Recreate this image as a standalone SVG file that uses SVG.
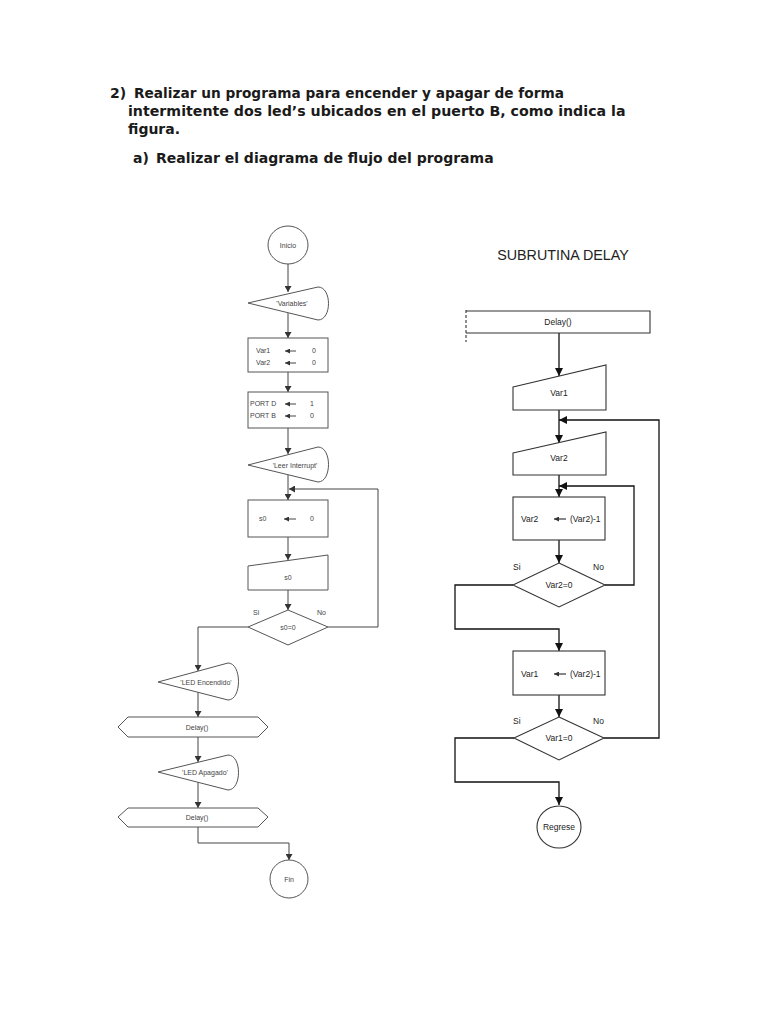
<svg xmlns="http://www.w3.org/2000/svg" width="768" height="1024" viewBox="0 0 768 1024">
<style>
.hd{font-family:"DejaVu Sans",sans-serif;font-size:14px;fill:#1a1a1a;font-weight:bold}
.st{font-family:"Liberation Sans",Arial,sans-serif;font-size:14.3px;fill:#222}
.lt{font-family:"Liberation Sans",Arial,sans-serif;font-size:7px;fill:#444}
.rt{font-family:"Liberation Sans",Arial,sans-serif;font-size:8.5px;fill:#222}
.ls{fill:#fff;stroke:#555;stroke-width:1}
.rs{fill:#fff;stroke:#333;stroke-width:1.1}
.lc{fill:none;stroke:#444;stroke-width:1}
.rc{fill:none;stroke:#111;stroke-width:1.3}
</style>
<defs>
<marker id="al" markerUnits="userSpaceOnUse" markerWidth="7" markerHeight="7" refX="6" refY="3.5" orient="auto"><path d="M0,0 L6,3.5 L0,7 z" fill="#333"/></marker>
<marker id="ar" markerUnits="userSpaceOnUse" markerWidth="9" markerHeight="9" refX="8" refY="4" orient="auto"><path d="M0,0 L8,4 L0,8 z" fill="#111"/></marker>
<marker id="sa" markerUnits="userSpaceOnUse" markerWidth="6" markerHeight="6" refX="0" refY="2.5" orient="auto"><path d="M5,0 L0,2.5 L5,5 z" fill="#333"/></marker>
</defs>
<rect width="768" height="1024" fill="#fff"/>
<g id="header">
<text class="hd" x="110" y="98">2)<tspan x="134" style="font-size:13.7px">Realizar un programa para encender y apagar de forma</tspan></text>
<text class="hd" x="128" y="116" style="font-size:14.2px">intermitente dos led’s ubicados en el puerto B, como indica la</text>
<text class="hd" x="128" y="134">figura.</text>
<text class="hd" x="133" y="163">a)<tspan x="156">Realizar el diagrama de flujo del programa</tspan></text>
</g>
<g id="connectors">
<line class="lc" x1="288" y1="264" x2="288" y2="292" marker-end="url(#al)"/>
<line class="lc" x1="288" y1="313" x2="288" y2="338" marker-end="url(#al)"/>
<line class="lc" x1="288" y1="372" x2="288" y2="392" marker-end="url(#al)"/>
<line class="lc" x1="288" y1="428" x2="288" y2="454" marker-end="url(#al)"/>
<line class="lc" x1="288" y1="475" x2="288" y2="500" marker-end="url(#al)"/>
<line class="lc" x1="288" y1="537" x2="288" y2="560" marker-end="url(#al)"/>
<line class="lc" x1="288" y1="590" x2="288" y2="610" marker-end="url(#al)"/>
<polyline class="lc" points="328,627 378,627 378,489 289,489" marker-end="url(#al)"/>
<polyline class="lc" points="248,627 198,627 198,671" marker-end="url(#al)"/>
<line class="lc" x1="198" y1="692" x2="198" y2="717" marker-end="url(#al)"/>
<line class="lc" x1="198" y1="737" x2="198" y2="762" marker-end="url(#al)"/>
<line class="lc" x1="198" y1="782" x2="198" y2="808" marker-end="url(#al)"/>
<polyline class="lc" points="198,827 198,843 289,843 289,860" marker-end="url(#al)"/>
<line class="rc" x1="559" y1="333" x2="559" y2="376" marker-end="url(#ar)"/>
<line class="rc" x1="559" y1="410" x2="559" y2="443" marker-end="url(#ar)"/>
<polyline class="rc" points="604,738 659,738 659,420 559,420" marker-end="url(#ar)"/>
<line class="rc" x1="559" y1="475" x2="559" y2="497" marker-end="url(#ar)"/>
<polyline class="rc" points="605,585 634,585 634,486 559,486" marker-end="url(#ar)"/>
<line class="rc" x1="559" y1="540" x2="559" y2="563" marker-end="url(#ar)"/>
<polyline class="rc" points="513,585 455,585 455,629 559,629 559,651" marker-end="url(#ar)"/>
<line class="rc" x1="559" y1="695" x2="559" y2="717" marker-end="url(#ar)"/>
<polyline class="rc" points="514,738 455,738 455,782 559,782 559,805" marker-end="url(#ar)"/>
</g>
<g id="inicio">
<ellipse class="ls" cx="288" cy="245" rx="20" ry="19"/>
<text class="lt" x="288" y="247.5" text-anchor="middle">Inicio</text>
</g>
<g id="variables">
<path class="ls" d="M248,303 L318,287 C332,287 332,320 318,320 Z"/>
<text class="lt" x="292" y="305.5" text-anchor="middle">'Variables'</text>
</g>
<g id="init-vars">
<rect class="ls" x="248" y="338" width="80" height="34"/>
<text class="lt" x="256" y="353">Var1</text>
<text class="lt" x="256" y="365">Var2</text>
<line class="lc" x1="285" y1="351" x2="296" y2="351" marker-start="url(#sa)"/>
<line class="lc" x1="285" y1="363" x2="296" y2="363" marker-start="url(#sa)"/>
<text class="lt" x="312" y="353">0</text>
<text class="lt" x="312" y="365">0</text>
</g>
<g id="init-ports">
<rect class="ls" x="248" y="392" width="80" height="36"/>
<text class="lt" x="250" y="406">PORT D</text>
<text class="lt" x="250" y="418">PORT B</text>
<line class="lc" x1="285" y1="404" x2="296" y2="404" marker-start="url(#sa)"/>
<line class="lc" x1="285" y1="416" x2="296" y2="416" marker-start="url(#sa)"/>
<text class="lt" x="310" y="406">1</text>
<text class="lt" x="310" y="418">0</text>
</g>
<g id="leer-interrupt">
<path class="ls" d="M248,465 L318,447 C332,447 332,482 318,482 Z"/>
<text class="lt" x="295" y="467.5" text-anchor="middle">'Leer Interrupt'</text>
</g>
<g id="s0-assign">
<rect class="ls" x="248" y="500" width="80" height="37"/>
<text class="lt" x="259" y="521">s0</text>
<line class="lc" x1="284" y1="519" x2="296" y2="519" marker-start="url(#sa)"/>
<text class="lt" x="310" y="521">0</text>
</g>
<g id="s0-input">
<path class="ls" d="M248,566 L328,555 L328,590 L248,590 Z"/>
<text class="lt" x="288" y="580" text-anchor="middle">s0</text>
</g>
<g id="s0-decision">
<path class="ls" d="M288,610 L328,627 L288,645 L248,627 Z"/>
<text class="lt" x="288" y="629.5" text-anchor="middle">s0=0</text>
<text class="lt" x="253" y="615">Si</text>
<text class="lt" x="317" y="615">No</text>
</g>
<g id="led-encendido">
<path class="ls" d="M158,682 L228,663 C242,663 242,700 228,700 Z"/>
<text class="lt" x="206" y="684.5" text-anchor="middle">'LED Encendido'</text>
</g>
<g id="delay1">
<path class="ls" d="M118,727 L128,717 L258,717 L268,727 L258,737 L128,737 Z"/>
<text class="lt" x="197" y="729.5" text-anchor="middle">Delay()</text>
</g>
<g id="led-apagado">
<path class="ls" d="M158,772 L228,755 C242,755 242,790 228,790 Z"/>
<text class="lt" x="205" y="774.5" text-anchor="middle">'LED Apagado'</text>
</g>
<g id="delay2">
<path class="ls" d="M118,817 L128,808 L258,808 L268,817 L258,827 L128,827 Z"/>
<text class="lt" x="197" y="819.5" text-anchor="middle">Delay()</text>
</g>
<g id="fin">
<ellipse class="ls" cx="289" cy="879" rx="19" ry="19"/>
<text class="lt" x="289" y="881.5" text-anchor="middle">Fin</text>
</g>
<g id="subrutina-title">
<text class="st" x="563" y="260" text-anchor="middle">SUBRUTINA DELAY</text>
</g>
<g id="delay-start">
<path d="M466,311 L650,311 L650,333 L466,333" fill="#fff" stroke="#333" stroke-width="1.1"/>
<line x1="466" y1="310" x2="466" y2="342" stroke="#333" stroke-width="1.1" stroke-dasharray="3,2"/>
<text class="rt" x="558" y="325" text-anchor="middle">Delay()</text>
</g>
<g id="var1-input">
<path class="rs" d="M513,387 L606,365 L606,410 L513,410 Z"/>
<text class="rt" x="559" y="396" text-anchor="middle">Var1</text>
</g>
<g id="var2-input">
<path class="rs" d="M513,453 L606,432 L606,475 L513,475 Z"/>
<text class="rt" x="559" y="461" text-anchor="middle">Var2</text>
</g>
<g id="var2-dec">
<rect class="rs" x="513" y="497" width="92" height="43"/>
<text class="rt" x="521" y="522">Var2</text>
<line x1="554" y1="519" x2="566" y2="519" stroke="#111" stroke-width="1" marker-start="url(#sa)"/>
<text class="rt" x="570" y="522">(Var2)-1</text>
</g>
<g id="var2-decision">
<path class="rs" d="M559,563 L605,585 L559,607 L513,585 Z"/>
<text class="rt" x="559" y="588" text-anchor="middle">Var2=0</text>
<text class="rt" x="513" y="570">Si</text>
<text class="rt" x="593" y="570">No</text>
</g>
<g id="var1-dec">
<rect class="rs" x="513" y="651" width="92" height="44"/>
<text class="rt" x="521" y="677">Var1</text>
<line x1="554" y1="674" x2="566" y2="674" stroke="#111" stroke-width="1" marker-start="url(#sa)"/>
<text class="rt" x="570" y="677">(Var2)-1</text>
</g>
<g id="var1-decision">
<path class="rs" d="M559,717 L604,738 L559,760 L514,738 Z"/>
<text class="rt" x="559" y="741" text-anchor="middle">Var1=0</text>
<text class="rt" x="513" y="724">Si</text>
<text class="rt" x="593" y="724">No</text>
</g>
<g id="regrese">
<ellipse class="rs" cx="559" cy="827" rx="22" ry="21"/>
<text class="rt" x="559" y="830" text-anchor="middle">Regrese</text>
</g>
</svg>
